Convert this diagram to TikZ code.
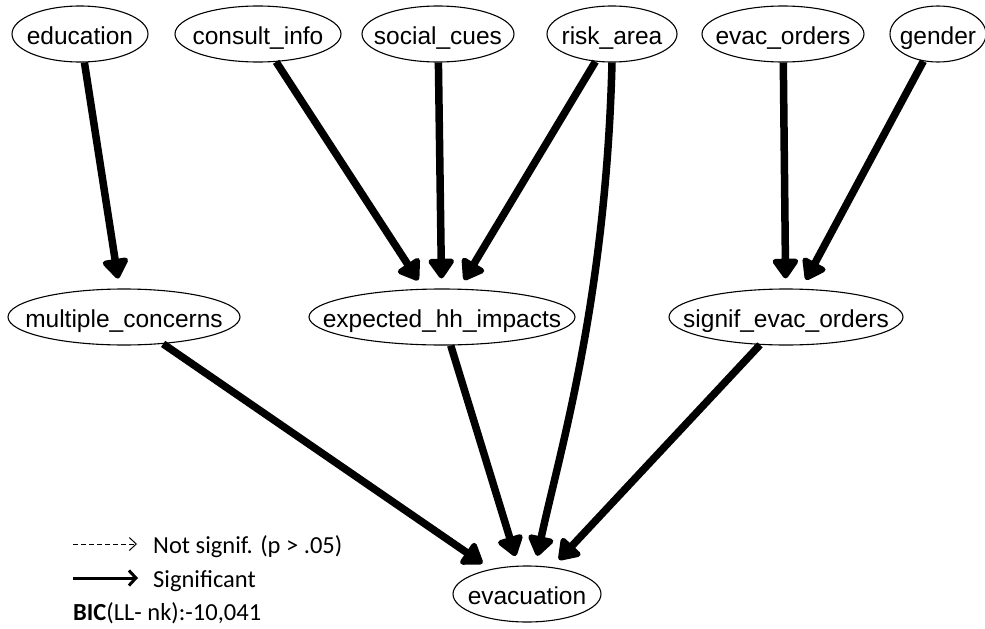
\documentclass[tikz,border=0pt]{standalone}
\usepackage{fontspec}
\setmainfont{Liberation Sans}
\newfontfamily\legendfont{Carlito}
\usetikzlibrary{shapes.geometric,arrows.meta}

\tikzset{
  var/.style={draw, ellipse, line width=1.1pt, inner sep=0pt,
    minimum height=56pt, font=\fontsize{24.5}{28}\selectfont,
    text height=21pt, text depth=0pt},
  sig/.style={line width=7.5pt, line join=round,
    -{Triangle[length=22pt,width=29pt,round]}, shorten >=10pt},
  legtext/.style={anchor=base west, inner sep=0pt,
    font=\legendfont\fontsize{24.5}{28}\selectfont},
}
\newcommand{\lbl}[1]{\makebox[0pt][c]{#1}}

\begin{document}
\begin{tikzpicture}[x=1pt,y=-1pt]
  \useasboundingbox (0,0) rectangle (985,629);

  % top row: exogenous variables
  \node[var, minimum width=136pt] (education)   at (80,34)  {\lbl{education}};
  \node[var, minimum width=166pt] (consult_info) at (258,34) {\lbl{consult\_info}};
  \node[var, minimum width=152pt] (social_cues) at (438,34) {\lbl{social\_cues}};
  \node[var, minimum width=130pt] (risk_area)   at (612,34) {\lbl{risk\_area}};
  \node[var, minimum width=162pt] (evac_orders) at (783,34) {\lbl{evac\_orders}};
  \node[var, minimum width=96pt]  (gender)      at (938,34) {\lbl{gender}};

  % middle row: mediators
  \node[var, minimum width=232pt] (multiple_concerns) at (124,317) {\lbl{multiple\_concerns}};
  \node[var, minimum width=266pt] (expected_hh_impacts) at (442,317) {\lbl{expected\_hh\_impacts}};
  \node[var, minimum width=234pt] (signif_evac_orders) at (786,317) {\lbl{signif\_evac\_orders}};

  % outcome
  \node[var, minimum width=148pt] (evacuation) at (527,594) {\lbl{evacuation}};

  % significant paths
  \draw[sig] (education) -- (multiple_concerns);
  \draw[sig] (consult_info) -- (expected_hh_impacts);
  \draw[sig] (social_cues) -- (expected_hh_impacts);
  \draw[sig] (risk_area) -- (expected_hh_impacts);
  \draw[sig] (evac_orders) -- (signif_evac_orders);
  \draw[sig] (gender) -- (signif_evac_orders);
  \draw[sig] (multiple_concerns) -- (evacuation);
  \draw[sig] (expected_hh_impacts) -- (evacuation);
  \draw[sig] (signif_evac_orders) -- (evacuation);
  \draw[sig] (risk_area.south) .. controls (606,300) and (560,450) .. (evacuation.74);

  % legend
  \coordinate (ns_from) at (73,544);
  \coordinate (ns_to)   at (137,544);
  \coordinate (sg_from) at (73,578);
  \coordinate (sg_to)   at (138,578);
  \draw[line width=1pt, dash pattern=on 5pt off 3pt,
        -{Straight Barb[length=7pt,width=13pt]}] (ns_from) -- (ns_to);
  \draw[line width=3pt, -{Straight Barb[length=7pt,width=15pt]}] (sg_from) -- (sg_to);
  \node[legtext] (ns_text) at (153,553) {Not signif. (p > .05)};
  \node[legtext] (sg_text) at (153,587) {Significant};
  \node[legtext] (bic_text) at (73,620) {\textbf{BIC}(LL- nk):-10,041};
\end{tikzpicture}
\end{document}
